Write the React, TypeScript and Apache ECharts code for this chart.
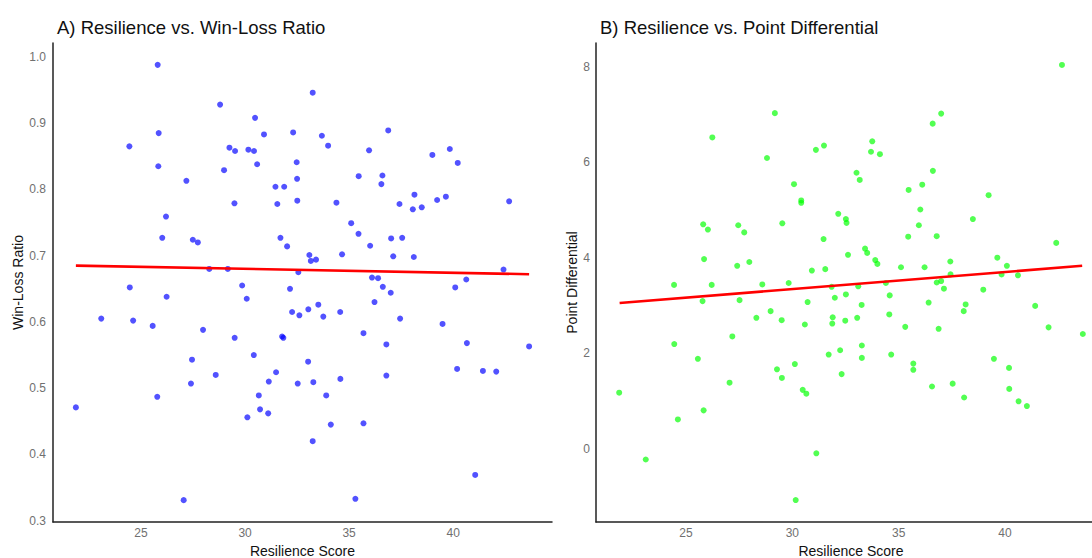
import React, { useEffect, useRef } from "react";
import * as echarts from "echarts";

// Panel A: resilience score vs win-loss ratio
const resilienceA = [
  25.80, 28.80, 30.48, 25.85, 30.91, 24.44, 29.25, 29.52, 30.16, 30.43, 25.83, 30.58, 28.99, 27.18, 31.46,
  29.49, 31.55, 26.20, 26.02, 27.49, 27.73, 31.70, 28.28, 29.17, 24.46, 29.86, 26.23, 30.08,
  33.25, 32.31, 33.69, 36.88, 33.99, 35.96, 39.00, 39.84, 40.22, 32.48, 32.50, 35.46, 36.60, 36.55, 31.88,
  32.51, 34.39, 38.14, 37.42, 38.06, 38.49, 39.23, 39.65, 42.69, 32.02, 35.10, 35.45, 36.01, 37.02, 37.55,
  33.09, 33.16, 33.41, 34.66, 37.12, 38.11, 32.56, 42.42, 32.16, 36.10, 36.39, 36.62, 37.00, 40.10, 40.63,
  23.09, 24.62, 25.56, 27.98, 29.50, 27.45, 30.42, 31.49, 28.59, 27.40, 31.14, 25.78, 30.66, 21.87, 30.72,
  31.11, 30.11, 27.05,
  32.26, 32.61, 33.04, 33.52, 33.76, 34.57, 36.22, 37.45, 39.49, 35.69, 36.79, 40.66, 43.65, 31.78, 31.84,
  33.03, 32.53, 33.28, 34.58, 36.79, 40.19, 41.43, 42.07, 33.90, 34.12, 35.69, 33.25, 41.06, 35.30,
];
const winLoss = [
  0.988, 0.928, 0.908, 0.885, 0.883, 0.865, 0.863, 0.858, 0.860, 0.858, 0.835, 0.838, 0.829, 0.813, 0.804,
  0.779, 0.778, 0.759, 0.727, 0.724, 0.720, 0.727, 0.680, 0.680, 0.652, 0.655, 0.638, 0.635,
  0.946, 0.886, 0.881, 0.889, 0.866, 0.859, 0.852, 0.861, 0.840, 0.841, 0.816, 0.820, 0.821, 0.808, 0.804,
  0.783, 0.780, 0.792, 0.778, 0.770, 0.773, 0.784, 0.789, 0.782, 0.714, 0.749, 0.733, 0.715, 0.726, 0.727,
  0.701, 0.692, 0.694, 0.702, 0.699, 0.698, 0.675, 0.679, 0.650, 0.667, 0.666, 0.653, 0.644, 0.652, 0.664,
  0.605, 0.602, 0.594, 0.588, 0.576, 0.543, 0.550, 0.524, 0.520, 0.507, 0.510, 0.487, 0.489, 0.471, 0.468,
  0.462, 0.456, 0.331,
  0.615, 0.610, 0.619, 0.626, 0.608, 0.615, 0.630, 0.605, 0.597, 0.583, 0.566, 0.568, 0.563, 0.578, 0.576,
  0.540, 0.507, 0.509, 0.514, 0.519, 0.529, 0.526, 0.525, 0.489, 0.445, 0.447, 0.420, 0.369, 0.333,
];
const fitA = [
  [21.87, 0.685],
  [43.65, 0.672],
];

// Panel B: resilience score vs point differential
const resilienceB = [
  29.18, 26.24, 28.81, 31.11, 31.49, 30.08, 30.42, 30.42, 25.81, 26.03, 27.46, 27.74, 29.53, 31.47, 25.85,
  27.98, 27.41, 30.92, 31.55, 24.44, 26.21, 28.59, 29.83,
  42.68, 37.00, 36.60, 33.76, 33.70, 34.12, 33.02, 33.17, 36.61, 35.47, 36.11, 39.23, 32.16, 32.52, 32.55,
  36.02, 35.95, 38.49, 35.45, 36.79, 42.41, 33.42, 33.52, 32.62, 33.90, 34.00, 35.11, 36.22, 37.43, 39.64,
  40.09, 37.44, 39.84, 40.61, 31.85, 33.10, 34.40, 36.79, 37.00, 37.13, 38.98, 32.00, 32.52, 34.58,
  25.78, 27.52, 30.72, 28.31, 28.98, 29.50, 30.59, 27.18, 24.45, 25.56, 31.71, 30.12, 29.28, 29.51, 30.49,
  30.66, 21.86, 27.05, 25.83, 24.62, 23.11, 31.13, 30.16,
  33.26, 36.41, 38.15, 41.42, 31.90, 31.88, 32.49, 33.05, 34.56, 38.06, 35.31, 36.88, 42.05, 43.66, 32.25,
  33.27, 33.27, 34.65, 32.32, 35.69, 35.69, 39.48, 40.19, 36.57, 37.54, 38.08, 40.20, 40.64, 41.03,
];
const pointDiff = [
  7.03, 6.52, 6.09, 6.26, 6.35, 5.54, 5.20, 5.15, 4.70, 4.59, 4.68, 4.53, 4.72, 4.39, 3.97,
  3.91, 3.83, 3.73, 3.76, 3.43, 3.43, 3.44, 3.47,
  8.04, 7.02, 6.81, 6.44, 6.22, 6.17, 5.78, 5.63, 5.82, 5.42, 5.53, 5.31, 4.92, 4.81, 4.73,
  5.01, 4.68, 4.81, 4.44, 4.45, 4.31, 4.19, 4.10, 4.06, 3.95, 3.87, 3.80, 3.80, 3.92, 4.00,
  3.83, 3.65, 3.65, 3.63, 3.39, 3.40, 3.47, 3.48, 3.51, 3.35, 3.33, 3.16, 3.23, 3.21,
  3.09, 3.11, 3.07, 2.74, 2.88, 2.69, 2.60, 2.35, 2.19, 1.88, 1.97, 1.77, 1.66, 1.48, 1.23,
  1.15, 1.17, 1.38, 0.80, 0.61, -0.23, -0.10, -1.08,
  3.01, 3.06, 3.02, 2.99, 2.75, 2.62, 2.68, 2.74, 2.81, 2.88, 2.55, 2.51, 2.54, 2.40, 2.06,
  2.16, 1.90, 1.97, 1.56, 1.78, 1.65, 1.88, 1.69, 1.30, 1.36, 1.07, 1.25, 0.99, 0.89,
];
const fitB = [
  [21.88, 3.05],
  [43.63, 3.83],
];

const titles = ["A) Resilience vs. Win-Loss Ratio", "B) Resilience vs. Point Differential"];
const xName = "Resilience Score";
const yNames = ["Win-Loss Ratio", "Point Differential"];

const FONT = "'Liberation Sans', Arial, Helvetica, sans-serif";

const multipleOf = (v: number, step: number) => Math.abs(v / step - Math.round(v / step)) < 1e-6;

export default function App() {
  const ref = useRef<HTMLDivElement>(null);
  useEffect(() => {
    if (!ref.current) return;
    const chart = echarts.init(ref.current, undefined, { renderer: "svg" });
    const axisLine = { show: true, onZero: false, lineStyle: { color: "#222", width: 1.5 } };
    const labelStyle = { color: "#707070", fontSize: 12, fontFamily: FONT };
    const nameStyle = { color: "#111", fontSize: 14, lineHeight: 14, fontFamily: FONT };
    const titleStyle = { color: "#111", fontSize: 18.5, fontWeight: "normal", fontFamily: FONT };
    const xAxisBase = (gridIndex: number) => ({
      type: "value",
      gridIndex,
      min: 20.77,
      max: 44.75,
      name: xName,
      nameLocation: "middle",
      nameGap: 14,
      nameTextStyle: nameStyle,
      axisLine,
      axisTick: { show: false },
      splitLine: { show: false },
      axisLabel: {
        ...labelStyle,
        margin: 5,
        formatter: (v: number) => (multipleOf(v, 5) ? String(Math.round(v)) : ""),
      },
    });
    chart.setOption({
      animation: false,
      backgroundColor: "#fff",
      title: [
        { text: titles[0], left: 52, top: 13, textStyle: titleStyle },
        { text: titles[1], left: 595, top: 13, textStyle: titleStyle },
      ],
      grid: [
        { left: 53, top: 43, width: 499, height: 479, containLabel: false, outerBoundsMode: "none" },
        { left: 596, top: 43, width: 510, height: 479, containLabel: false, outerBoundsMode: "none" },
      ],
      xAxis: [xAxisBase(0), xAxisBase(1)],
      yAxis: [
        {
          type: "value",
          gridIndex: 0,
          min: 0.298,
          max: 1.021,
          name: yNames[0],
          nameLocation: "middle",
          nameGap: 27,
          nameTextStyle: nameStyle,
          axisLine,
          axisTick: { show: false },
          splitLine: { show: false },
          axisLabel: {
            ...labelStyle,
            margin: 7,
            formatter: (v: number) => (multipleOf(v, 0.1) ? v.toFixed(1) : ""),
          },
        },
        {
          type: "value",
          gridIndex: 1,
          min: -1.54,
          max: 8.5,
          name: yNames[1],
          nameLocation: "middle",
          nameGap: 17,
          nameTextStyle: nameStyle,
          axisLine,
          axisTick: { show: false },
          splitLine: { show: false },
          axisLabel: {
            ...labelStyle,
            margin: 6,
            formatter: (v: number) => (multipleOf(v, 2) ? String(Math.round(v)) : ""),
          },
        },
      ],
      series: [
        {
          type: "scatter",
          xAxisIndex: 0,
          yAxisIndex: 0,
          symbolSize: 6,
          itemStyle: { color: "rgb(0,0,255)", opacity: 0.68 },
          data: resilienceA.map((x, i) => [x, winLoss[i]]),
          z: 2,
        },
        {
          type: "line",
          xAxisIndex: 0,
          yAxisIndex: 0,
          data: fitA,
          showSymbol: false,
          lineStyle: { color: "#ff0000", width: 2.6 },
          z: 3,
        },
        {
          type: "scatter",
          xAxisIndex: 1,
          yAxisIndex: 1,
          symbolSize: 6,
          itemStyle: { color: "rgb(0,255,0)", opacity: 0.68 },
          data: resilienceB.map((x, i) => [x, pointDiff[i]]),
          z: 2,
        },
        {
          type: "line",
          xAxisIndex: 1,
          yAxisIndex: 1,
          data: fitB,
          showSymbol: false,
          lineStyle: { color: "#ff0000", width: 2.6 },
          z: 3,
        },
      ],
    });
    return () => chart.dispose();
  }, []);
  return (
    <div
      ref={ref}
      style={{ position: "absolute", left: 0, top: 0, width: 1092, height: 558, overflow: "hidden" }}
    />
  );
}
